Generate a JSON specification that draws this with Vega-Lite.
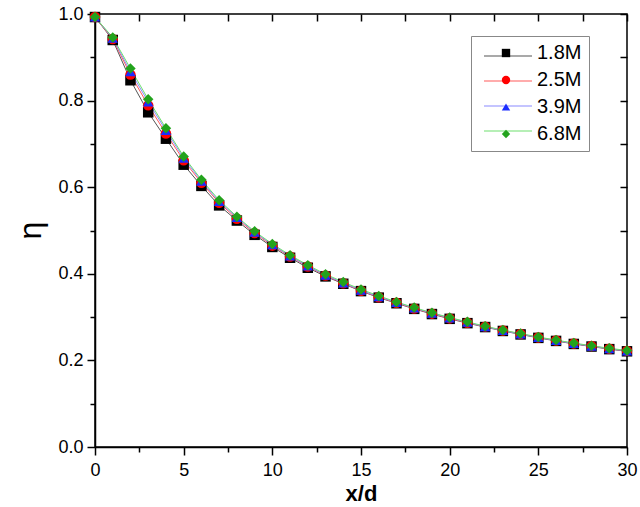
{
  "$schema": "https://vega.github.io/schema/vega-lite/v6.json",
  "width": 532,
  "height": 433,
  "autosize": {"type": "none"},
  "padding": {"left": 95, "top": 14, "right": 13, "bottom": 60},
  "config": {
    "view": {"stroke": "black", "strokeWidth": 1.5},
    "font": "Liberation Sans",
    "axis": {
      "grid": false,
      "domainColor": "black",
      "domainWidth": 1.5,
      "tickColor": "black",
      "tickWidth": 1.5,
      "labelColor": "black",
      "labelFont": "Liberation Sans",
      "labelFontSize": 18,
      "labelOverlap": false,
      "labelFlush": false,
      "titleColor": "black"
    },
    "legend": {
      "orient": "none",
      "direction": "vertical",
      "title": null,
      "padding": 7,
      "rowPadding": 7,
      "legendY": 22,
      "labelFont": "Liberation Sans",
      "labelFontSize": 20,
      "labelColor": "black"
    }
  },
  "data": {
    "values": [
      {"x": 0, "eta": 0.993, "series": "1.8M"}, {"x": 1, "eta": 0.940, "series": "1.8M"}, {"x": 2, "eta": 0.847, "series": "1.8M"}, {"x": 3, "eta": 0.773, "series": "1.8M"}, {"x": 4, "eta": 0.712, "series": "1.8M"}, {"x": 5, "eta": 0.652, "series": "1.8M"}, {"x": 6, "eta": 0.603, "series": "1.8M"}, {"x": 7, "eta": 0.558, "series": "1.8M"}, {"x": 8, "eta": 0.523, "series": "1.8M"}, {"x": 9, "eta": 0.490, "series": "1.8M"}, {"x": 10, "eta": 0.462, "series": "1.8M"}, {"x": 11, "eta": 0.437, "series": "1.8M"}, {"x": 12, "eta": 0.414, "series": "1.8M"}, {"x": 13, "eta": 0.394, "series": "1.8M"}, {"x": 14, "eta": 0.377, "series": "1.8M"}, {"x": 15, "eta": 0.360, "series": "1.8M"}, {"x": 16, "eta": 0.345, "series": "1.8M"}, {"x": 17, "eta": 0.332, "series": "1.8M"}, {"x": 18, "eta": 0.319, "series": "1.8M"}, {"x": 19, "eta": 0.307, "series": "1.8M"}, {"x": 20, "eta": 0.296, "series": "1.8M"}, {"x": 21, "eta": 0.286, "series": "1.8M"}, {"x": 22, "eta": 0.277, "series": "1.8M"}, {"x": 23, "eta": 0.268, "series": "1.8M"}, {"x": 24, "eta": 0.260, "series": "1.8M"}, {"x": 25, "eta": 0.252, "series": "1.8M"}, {"x": 26, "eta": 0.245, "series": "1.8M"}, {"x": 27, "eta": 0.238, "series": "1.8M"}, {"x": 28, "eta": 0.232, "series": "1.8M"}, {"x": 29, "eta": 0.226, "series": "1.8M"}, {"x": 30, "eta": 0.221, "series": "1.8M"},
      {"x": 0, "eta": 0.993, "series": "2.5M"}, {"x": 1, "eta": 0.942, "series": "2.5M"}, {"x": 2, "eta": 0.860, "series": "2.5M"}, {"x": 3, "eta": 0.789, "series": "2.5M"}, {"x": 4, "eta": 0.724, "series": "2.5M"}, {"x": 5, "eta": 0.662, "series": "2.5M"}, {"x": 6, "eta": 0.610, "series": "2.5M"}, {"x": 7, "eta": 0.564, "series": "2.5M"}, {"x": 8, "eta": 0.527, "series": "2.5M"}, {"x": 9, "eta": 0.494, "series": "2.5M"}, {"x": 10, "eta": 0.465, "series": "2.5M"}, {"x": 11, "eta": 0.440, "series": "2.5M"}, {"x": 12, "eta": 0.417, "series": "2.5M"}, {"x": 13, "eta": 0.396, "series": "2.5M"}, {"x": 14, "eta": 0.378, "series": "2.5M"}, {"x": 15, "eta": 0.361, "series": "2.5M"}, {"x": 16, "eta": 0.346, "series": "2.5M"}, {"x": 17, "eta": 0.333, "series": "2.5M"}, {"x": 18, "eta": 0.320, "series": "2.5M"}, {"x": 19, "eta": 0.308, "series": "2.5M"}, {"x": 20, "eta": 0.297, "series": "2.5M"}, {"x": 21, "eta": 0.287, "series": "2.5M"}, {"x": 22, "eta": 0.278, "series": "2.5M"}, {"x": 23, "eta": 0.269, "series": "2.5M"}, {"x": 24, "eta": 0.261, "series": "2.5M"}, {"x": 25, "eta": 0.253, "series": "2.5M"}, {"x": 26, "eta": 0.246, "series": "2.5M"}, {"x": 27, "eta": 0.239, "series": "2.5M"}, {"x": 28, "eta": 0.233, "series": "2.5M"}, {"x": 29, "eta": 0.227, "series": "2.5M"}, {"x": 30, "eta": 0.222, "series": "2.5M"},
      {"x": 0, "eta": 0.993, "series": "3.9M"}, {"x": 1, "eta": 0.944, "series": "3.9M"}, {"x": 2, "eta": 0.867, "series": "3.9M"}, {"x": 3, "eta": 0.797, "series": "3.9M"}, {"x": 4, "eta": 0.731, "series": "3.9M"}, {"x": 5, "eta": 0.667, "series": "3.9M"}, {"x": 6, "eta": 0.614, "series": "3.9M"}, {"x": 7, "eta": 0.567, "series": "3.9M"}, {"x": 8, "eta": 0.530, "series": "3.9M"}, {"x": 9, "eta": 0.496, "series": "3.9M"}, {"x": 10, "eta": 0.467, "series": "3.9M"}, {"x": 11, "eta": 0.441, "series": "3.9M"}, {"x": 12, "eta": 0.418, "series": "3.9M"}, {"x": 13, "eta": 0.397, "series": "3.9M"}, {"x": 14, "eta": 0.379, "series": "3.9M"}, {"x": 15, "eta": 0.362, "series": "3.9M"}, {"x": 16, "eta": 0.347, "series": "3.9M"}, {"x": 17, "eta": 0.334, "series": "3.9M"}, {"x": 18, "eta": 0.321, "series": "3.9M"}, {"x": 19, "eta": 0.309, "series": "3.9M"}, {"x": 20, "eta": 0.298, "series": "3.9M"}, {"x": 21, "eta": 0.288, "series": "3.9M"}, {"x": 22, "eta": 0.278, "series": "3.9M"}, {"x": 23, "eta": 0.269, "series": "3.9M"}, {"x": 24, "eta": 0.261, "series": "3.9M"}, {"x": 25, "eta": 0.253, "series": "3.9M"}, {"x": 26, "eta": 0.246, "series": "3.9M"}, {"x": 27, "eta": 0.239, "series": "3.9M"}, {"x": 28, "eta": 0.233, "series": "3.9M"}, {"x": 29, "eta": 0.227, "series": "3.9M"}, {"x": 30, "eta": 0.222, "series": "3.9M"},
      {"x": 0, "eta": 0.993, "series": "6.8M"}, {"x": 1, "eta": 0.946, "series": "6.8M"}, {"x": 2, "eta": 0.874, "series": "6.8M"}, {"x": 3, "eta": 0.803, "series": "6.8M"}, {"x": 4, "eta": 0.736, "series": "6.8M"}, {"x": 5, "eta": 0.671, "series": "6.8M"}, {"x": 6, "eta": 0.617, "series": "6.8M"}, {"x": 7, "eta": 0.570, "series": "6.8M"}, {"x": 8, "eta": 0.532, "series": "6.8M"}, {"x": 9, "eta": 0.498, "series": "6.8M"}, {"x": 10, "eta": 0.469, "series": "6.8M"}, {"x": 11, "eta": 0.443, "series": "6.8M"}, {"x": 12, "eta": 0.420, "series": "6.8M"}, {"x": 13, "eta": 0.399, "series": "6.8M"}, {"x": 14, "eta": 0.381, "series": "6.8M"}, {"x": 15, "eta": 0.364, "series": "6.8M"}, {"x": 16, "eta": 0.349, "series": "6.8M"}, {"x": 17, "eta": 0.335, "series": "6.8M"}, {"x": 18, "eta": 0.322, "series": "6.8M"}, {"x": 19, "eta": 0.310, "series": "6.8M"}, {"x": 20, "eta": 0.299, "series": "6.8M"}, {"x": 21, "eta": 0.289, "series": "6.8M"}, {"x": 22, "eta": 0.279, "series": "6.8M"}, {"x": 23, "eta": 0.270, "series": "6.8M"}, {"x": 24, "eta": 0.262, "series": "6.8M"}, {"x": 25, "eta": 0.254, "series": "6.8M"}, {"x": 26, "eta": 0.247, "series": "6.8M"}, {"x": 27, "eta": 0.240, "series": "6.8M"}, {"x": 28, "eta": 0.234, "series": "6.8M"}, {"x": 29, "eta": 0.228, "series": "6.8M"}, {"x": 30, "eta": 0.223, "series": "6.8M"}
    ]
  },
  "layer": [
    {
      "mark": {"type": "line", "strokeWidth": 1},
      "encoding": {
        "x": {
          "field": "x", "type": "quantitative",
          "scale": {"domain": [0, 30], "nice": false},
          "axis": {
            "orient": "bottom",
            "values": [0, 2.5, 5, 7.5, 10, 12.5, 15, 17.5, 20, 22.5, 25, 27.5, 30],
            "tickSize": {"condition": {"test": "datum.value % 5 === 0", "value": 8}, "value": 5},
            "labelExpr": "datum.value % 5 === 0 ? datum.label : ''",
            "labelPadding": 6,
            "title": "x/d",
            "titleFontSize": 22,
            "titleFontWeight": "bold",
            "titleFont": "Liberation Sans",
            "titleY": 53,
            "titleBaseline": "alphabetic"
          }
        },
        "y": {
          "field": "eta", "type": "quantitative",
          "scale": {"domain": [0, 1], "nice": false},
          "axis": {
            "orient": "left",
            "values": [0, 0.1, 0.2, 0.3, 0.4, 0.5, 0.6, 0.7, 0.8, 0.9, 1.0],
            "tickSize": {"condition": {"test": "round(datum.value * 10) % 2 === 0", "value": 8}, "value": 5},
            "labelExpr": "round(datum.value * 10) % 2 === 0 ? format(datum.value, '.1f') : ''",
            "labelPadding": 4,
            "title": "η",
            "titleFontSize": 32,
            "titleFontWeight": "normal",
            "titleFont": "Liberation Sans",
            "titleX": -65,
            "titleY": 216,
            "titleBaseline": "middle"
          }
        },
        "detail": {"field": "series"},
        "stroke": {
          "field": "series", "type": "nominal",
          "scale": {"range": ["#555555", "#ff5a5a", "#8a8aff", "#6ee06e"]},
          "legend": {
            "legendX": 393,
            "rowPadding": 2,
            "symbolType": "M-2,0H2",
            "symbolSize": 576,
            "symbolStrokeWidth": 1.2,
            "labelExpr": "' '"
          }
        }
      }
    },
    {
      "mark": {"type": "point", "filled": true, "opacity": 1, "size": 110},
      "encoding": {
        "x": {
          "field": "x", "type": "quantitative",
          "axis": {
            "orient": "top",
            "offset": -7,
            "values": [0, 2.5, 5, 7.5, 10, 12.5, 15, 17.5, 20, 22.5, 25, 27.5, 30],
            "tickSize": 7,
            "labels": false,
            "domain": false,
            "title": null
          }
        },
        "y": {
          "field": "eta", "type": "quantitative",
          "axis": {
            "orient": "right",
            "offset": -7,
            "values": [0, 0.1, 0.2, 0.3, 0.4, 0.5, 0.6, 0.7, 0.8, 0.9, 1.0],
            "tickSize": 7,
            "labels": false,
            "domain": false,
            "title": null
          }
        },
        "fill": {
          "field": "series", "type": "nominal",
          "scale": {"domain": ["1.8M", "2.5M", "3.9M", "6.8M"], "range": ["#000000", "#ff0000", "#1a2cff", "#22a31c"]},
          "legend": {
            "legendX": 376,
            "strokeColor": "#888888",
            "symbolSize": 70,
            "symbolStrokeWidth": 0,
            "symbolOffset": 18,
            "labelOffset": 21
          }
        },
        "shape": {
          "field": "series", "type": "nominal",
          "scale": {"domain": ["1.8M", "2.5M", "3.9M", "6.8M"], "range": ["square", "circle", "triangle-up", "diamond"]},
          "legend": {
            "legendX": 376,
            "strokeColor": "#888888",
            "symbolSize": 70,
            "symbolStrokeWidth": 0,
            "symbolOffset": 18,
            "labelOffset": 21
          }
        }
      }
    }
  ],
  "resolve": {"axis": {"x": "independent", "y": "independent"}}
}
